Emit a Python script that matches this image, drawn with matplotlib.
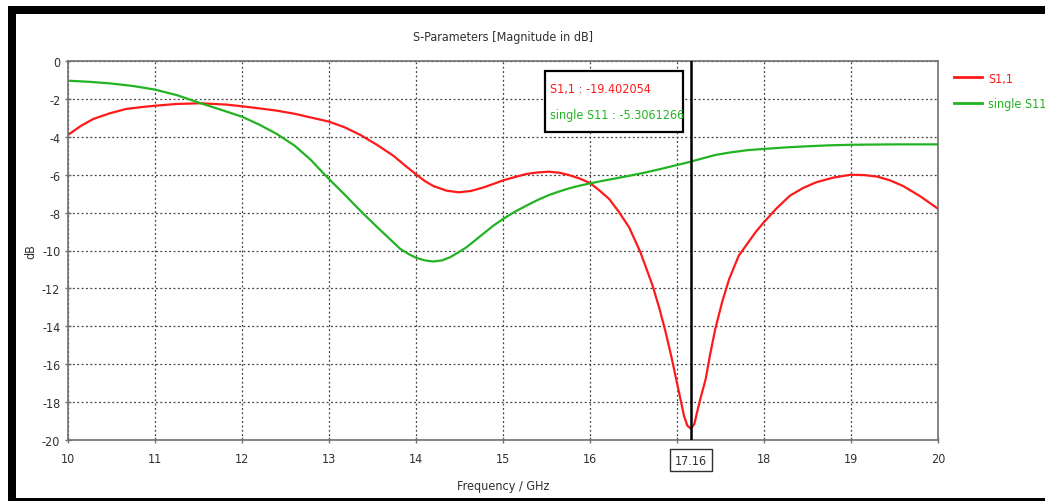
import matplotlib
matplotlib.use("Agg")
import matplotlib.pyplot as plt
from matplotlib import font_manager as fm
from matplotlib.patches import Rectangle
from matplotlib.lines import Line2D
from matplotlib.textpath import TextPath
from matplotlib.font_manager import FontProperties

# ---- data ----
freq_s11 = [10.0, 10.15, 10.29, 10.48, 10.67, 10.85, 11.0, 11.24, 11.52, 11.82, 12.0, 12.2,
            12.4, 12.6, 12.78, 13.0, 13.18, 13.36, 13.55, 13.74, 13.87, 14.0, 14.1, 14.2,
            14.35, 14.49, 14.63, 14.77, 14.9, 15.0, 15.14, 15.27, 15.4, 15.53, 15.65, 15.76,
            15.88, 16.0, 16.1, 16.22, 16.33, 16.45, 16.58, 16.72, 16.8, 16.87, 16.94, 16.99,
            17.04, 17.08, 17.12, 17.16, 17.2, 17.23, 17.27, 17.33, 17.38, 17.44, 17.52, 17.6,
            17.71, 17.82, 17.9, 18.0, 18.15, 18.3, 18.45, 18.6, 18.8, 19.0, 19.15, 19.3,
            19.45, 19.6, 19.8, 20.0]
s11 = [-3.9, -3.42, -3.06, -2.76, -2.53, -2.43, -2.36, -2.27, -2.23, -2.3, -2.39, -2.5,
       -2.62, -2.78, -2.97, -3.2, -3.5, -3.9, -4.42, -5.0, -5.5, -5.98, -6.33, -6.6,
       -6.84, -6.93, -6.86, -6.68, -6.47, -6.3, -6.12, -5.96, -5.88, -5.84, -5.9, -6.02,
       -6.2, -6.44, -6.8, -7.28, -7.95, -8.78, -10.1, -11.86, -13.1, -14.32, -15.7, -16.78,
       -17.85, -18.72, -19.25, -19.4, -19.15, -18.55, -17.8, -16.78, -15.5, -14.14, -12.7, -11.5,
       -10.27, -9.57, -9.05, -8.5, -7.75, -7.1, -6.7, -6.4, -6.15, -6.0, -6.02, -6.1,
       -6.3, -6.6, -7.15, -7.8]

freq_single = [10.0, 10.25, 10.48, 10.75, 11.0, 11.25, 11.52, 11.75, 12.0, 12.2, 12.4, 12.6,
               12.78, 13.0, 13.18, 13.36, 13.55, 13.74, 13.82, 13.92, 14.0, 14.1, 14.2, 14.3,
               14.39, 14.48, 14.58, 14.67, 14.77, 14.88, 15.0, 15.13, 15.27, 15.4, 15.53, 15.65,
               15.76, 15.88, 16.0, 16.15, 16.3, 16.47, 16.64, 16.82, 17.0, 17.16, 17.3, 17.44,
               17.62, 17.82, 18.0, 18.25, 18.5, 18.75, 19.0, 19.5, 20.0]
single_s11 = [-1.04, -1.1, -1.18, -1.32, -1.51, -1.8, -2.22, -2.56, -2.94, -3.36, -3.85, -4.45,
              -5.17, -6.23, -7.05, -7.9, -8.75, -9.57, -9.92, -10.2, -10.38, -10.52, -10.58, -10.52,
              -10.36, -10.12, -9.83, -9.5, -9.13, -8.72, -8.34, -7.97, -7.63, -7.33, -7.07, -6.88,
              -6.72, -6.58, -6.46, -6.32, -6.19, -6.04, -5.88, -5.69, -5.49, -5.31, -5.13, -4.96,
              -4.82, -4.7, -4.64, -4.56, -4.5, -4.45, -4.42, -4.4, -4.4]

marker_x = 17.16
marker_s11 = "-19.402054"
marker_single = "-5.3061266"
x_ticks = [10, 11, 12, 13, 14, 15, 16, 17, 18, 19, 20]
y_ticks = [0, -2, -4, -6, -8, -10, -12, -14, -16, -18, -20]

RED = "#ff1a1a"
GREEN = "#22b322"
TXT = "#303030"

# ---- font choice: prefer a narrow sans ----
names = {f.name for f in fm.fontManager.ttflist}
if "Liberation Sans Narrow" in names:
    plt.rcParams["font.family"] = ["Liberation Sans Narrow", "DejaVu Sans"]
else:
    plt.rcParams["font.family"] = ["DejaVu Sans"]
    plt.rcParams["font.stretch"] = "condensed"

# scale the font so the title width matches the reference (~174 px)
fp = FontProperties(family=plt.rcParams["font.family"], stretch=plt.rcParams["font.stretch"], size=10)
tp = TextPath((0, 0), "S-Parameters [Magnitude in dB]", prop=fp)
w_pt = tp.get_extents().width  # in points at size 10
FS = 10 * (174 / (100 / 72)) / w_pt
FS = max(9.0, min(11.5, FS))

W, H = 1045, 502
fig = plt.figure(figsize=(W / 100, H / 100), dpi=100)

# outer black frame
fig.patches.append(Rectangle((8 / W, 0), 8 / W, 1 - 7 / H, transform=fig.transFigure,
                             facecolor="black", edgecolor="none"))
fig.patches.append(Rectangle((8 / W, 1 - 15 / H), 1, 8 / H, transform=fig.transFigure,
                             facecolor="black", edgecolor="none"))
fig.patches.append(Rectangle((8 / W, 0), 1, 3 / H, transform=fig.transFigure,
                             facecolor="black", edgecolor="none"))

ax = fig.add_axes([68 / W, 1 - 441 / H, (938 - 68) / W, (441 - 62) / H])
ax.plot(freq_s11, s11, color=RED, lw=1.6, label="S1,1")
ax.plot(freq_single, single_s11, color=GREEN, lw=1.6, label="single S11")

ax.set_xlim(10, 20)
ax.set_ylim(-20, 0)
ax.set_xticks(x_ticks)
ax.set_xticklabels([("" if t == 17 else str(t)) for t in x_ticks])
ax.set_yticks(y_ticks)
ax.set_yticklabels([str(t) for t in y_ticks])
ax.grid(True, color="#404040", linestyle=(0, (1.5, 2)), lw=0.9)
for s in ax.spines.values():
    s.set_color("#707070")
    s.set_linewidth(1.2)
ax.tick_params(axis="both", colors="#707070", labelcolor=TXT, labelsize=FS,
               length=4, width=1.0, direction="inout")
ax.tick_params(axis="x", pad=7)

ax.set_title("S-Parameters [Magnitude in dB]", fontsize=FS, color=TXT, pad=15)
ax.set_xlabel("Frequency / GHz", fontsize=FS, color=TXT, labelpad=10)
ax.set_ylabel("dB", fontsize=FS, color=TXT, labelpad=3)

# marker line
ax.axvline(marker_x, color="black", lw=1.8, zorder=5)
ax.annotate(f"{marker_x:.2f}", xy=(marker_x, 0), xycoords=("data", "axes fraction"),
            xytext=(0, -14.5), textcoords="offset points", ha="center", va="center",
            fontsize=FS, color=TXT,
            bbox=dict(boxstyle="square,pad=0.38", fc="white", ec=TXT, lw=1.0),
            annotation_clip=False)

# marker readout box
ax.add_patch(Rectangle(((545 - 68) / 870, 1 - (133 - 62) / 379),
                       (683 - 545) / 870, (133 - 72) / 379, transform=ax.transAxes,
                       facecolor="white", edgecolor="black", lw=1.6, zorder=5.5))
ax.text((550 - 68) / 870, 1 - (90 - 62) / 379, f"S1,1 : {marker_s11}", transform=ax.transAxes,
        color=RED, fontsize=FS, va="center", ha="left", zorder=6)
ax.text((550 - 68) / 870, 1 - (116 - 62) / 379, f"single S11 : {marker_single}",
        transform=ax.transAxes, color=GREEN, fontsize=FS, va="center", ha="left", zorder=6)

# legend outside right
handles = [Line2D([], [], color=RED, lw=2.0), Line2D([], [], color=GREEN, lw=2.0)]
leg = fig.legend(handles, ["S1,1", "single S11"], loc="upper left",
                 bbox_to_anchor=(951 / W, 1 - 70 / H), frameon=False, fontsize=FS,
                 handlelength=2.3, handletextpad=0.5, labelspacing=1.0,
                 borderaxespad=0, borderpad=0.2)
for t, c in zip(leg.get_texts(), [RED, GREEN]):
    t.set_color(c)

fig.savefig("out.png", dpi=100)
